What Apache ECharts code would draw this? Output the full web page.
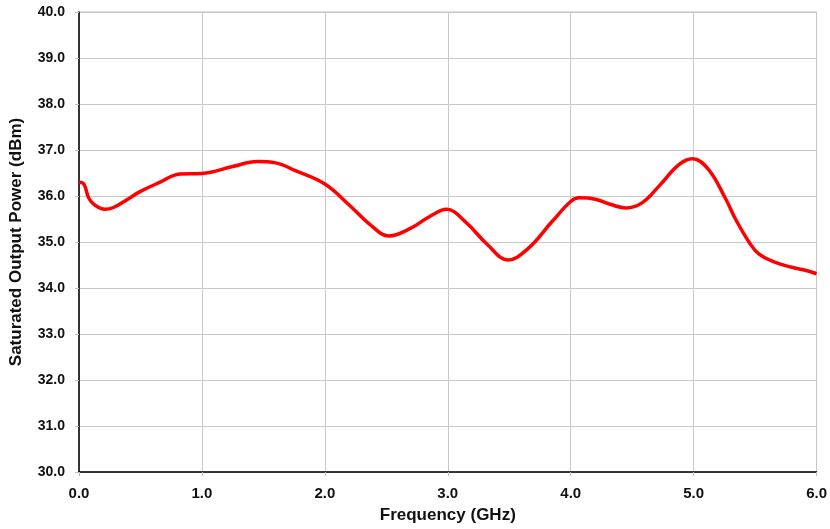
<!DOCTYPE html>
<html><head><meta charset="utf-8">
<script src="https://cdn.jsdelivr.net/npm/echarts@6/dist/echarts.min.js"></script>
<style>html,body{margin:0;padding:0;background:#fff}#c{width:830px;height:529px}</style>
</head><body><div id="c"></div>
<script>
const freqGHz = [0.0, 0.04, 0.08, 0.13, 0.21, 0.28, 0.39, 0.5, 0.66, 0.82, 1.0, 1.25, 1.45, 1.6, 1.76, 2.0, 2.2, 2.38, 2.52, 2.7, 2.85, 2.99, 3.15, 3.32, 3.49, 3.65, 3.85, 4.0, 4.07, 4.2, 4.32, 4.45, 4.58, 4.72, 4.88, 4.99, 5.12, 5.26, 5.34, 5.45, 5.53, 5.66, 5.8, 5.9, 6.0];
const powerDBm = [36.30, 36.26, 35.95, 35.80, 35.71, 35.75, 35.92, 36.10, 36.30, 36.48, 36.49, 36.64, 36.75, 36.72, 36.55, 36.26, 35.80, 35.35, 35.13, 35.30, 35.55, 35.71, 35.42, 34.95, 34.61, 34.85, 35.45, 35.88, 35.96, 35.93, 35.82, 35.74, 35.85, 36.22, 36.68, 36.81, 36.58, 35.94, 35.50, 35.00, 34.74, 34.56, 34.45, 34.39, 34.31];
const xTicks = [0, 1, 2, 3, 4, 5, 6];
const yTicks = [30, 31, 32, 33, 34, 35, 36, 37, 38, 39, 40];

const chart = echarts.init(document.getElementById('c'), null, {renderer: 'canvas'});
const font = 'Liberation Sans, Arial, sans-serif';
chart.setOption({
  animation: false,
  backgroundColor: '#fff',
  grid: {left: 79, right: 10, top: 12, bottom: 55, containLabel: false, show: true, borderColor: '#bdbdbd', borderWidth: 1},
  xAxis: {
    type: 'value', min: xTicks[0], max: xTicks[xTicks.length-1], interval: 1,
    name: 'Frequency (GHz)', nameLocation: 'middle', nameGap: 35,
    nameTextStyle: {fontFamily: font, fontWeight: 'bold', fontSize: 17, color: '#111'},
    axisLine: {show: true, onZero: false, lineStyle: {color: '#000', width: 1.5}},
    axisTick: {show: true, length: 4, lineStyle: {color: '#bdbdbd'}},
    axisLabel: {fontFamily: font, fontWeight: 'bold', fontSize: 15, color: '#111', margin: 14, formatter: v => v.toFixed(1)},
    splitLine: {show: true, lineStyle: {color: '#c8c8c8', width: 1}}
  },
  yAxis: {
    type: 'value', min: yTicks[0], max: yTicks[yTicks.length-1], interval: 1,
    name: 'Saturated Output Power (dBm)', nameLocation: 'middle', nameGap: 54, nameRotate: 90,
    nameTextStyle: {fontFamily: font, fontWeight: 'bold', fontSize: 17, color: '#111'},
    axisLine: {show: true, onZero: false, lineStyle: {color: '#000', width: 1.5}},
    axisTick: {show: true, length: 4, inside: false, lineStyle: {color: '#bdbdbd'}},
    axisLabel: {fontFamily: font, fontWeight: 'bold', fontSize: 14, color: '#111', margin: 14, formatter: v => v.toFixed(1)},
    splitLine: {show: true, lineStyle: {color: '#c8c8c8', width: 1}}
  },
  series: [{
    type: 'line',
    data: freqGHz.map((f, i) => [f, powerDBm[i]]),
    smooth: 0.4,
    showSymbol: false,
    lineStyle: {color: '#ff0000', width: 3.5},
    clip: true
  }]
});
</script></body></html>
